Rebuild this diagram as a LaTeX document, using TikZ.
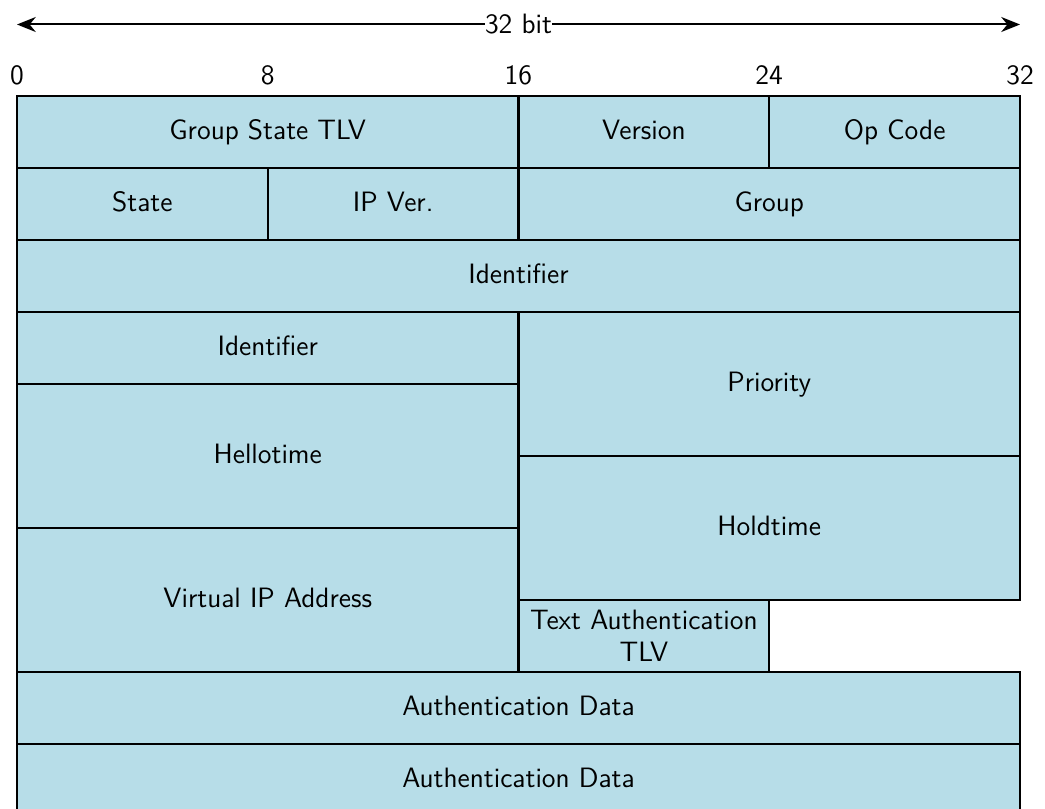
\documentclass[tikz,border=0pt]{standalone}
\usetikzlibrary{arrows.meta}
\definecolor{cellblue}{HTML}{B7DDE8}
\newcommand\bitw{12.5375pt}
\newcommand\rowh{28.8pt}
\newcommand\xo{6.8pt}
\newcommand\yo{38.4pt}
% name, bit1, row1, bit2, row2, text
\newcommand\fld[7][]{%
  \node[fld, minimum width={(#5-#3)*\bitw}, minimum height={(#6-#4)*\rowh}, #1]
    (#2) at ({(#3+#5)/2*\bitw+\xo},{-((#4+#6)/2*\rowh+\yo)}) {#7};}
\newcommand\txtfont{\sffamily\fontsize{11.2}{13}\selectfont}
\tikzset{
  fld/.style={draw=black, fill=cellblue, line width=0.85pt, inner sep=0pt,
    rectangle, align=center, font=\txtfont},
  oneline/.style={text height=1.55ex, text depth=0.25ex},
  tick/.style={font=\txtfont, inner sep=0pt},
}
\begin{document}
\begin{tikzpicture}[x=1pt,y=1pt]
\clip (0,0) rectangle (418,-323.6);
\useasboundingbox (0,0) rectangle (418,-323.6);
% arrow
\coordinate (aL) at (6.8,-9.8);
\coordinate (aR) at (408,-9.8);
\draw[line width=0.8pt, {Stealth[length=7.5pt,width=6pt]}-{Stealth[length=7.5pt,width=6pt]}]
  (aL) -- node[fill=white, inner sep=0pt, font=\txtfont] (lbl) {32 bit} (aR);
% ticks
\node[tick] (t0)  at (6.8,-30.2)   {0};
\node[tick] (t8)  at (107.08,-30.2) {8};
\node[tick] (t16) at (207.36,-30.2) {16};
\node[tick] (t24) at (307.68,-30.2) {24};
\node[tick] (t32) at (408,-30.2)   {32};
% fields
\fld[oneline]{gst}{0}{0}{16}{1}{Group State TLV}
\fld[oneline]{ver}{16}{0}{24}{1}{Version}
\fld[oneline]{op}{24}{0}{32}{1}{Op Code}
\fld[oneline]{st}{0}{1}{8}{2}{State}
\fld[oneline]{ipv}{8}{1}{16}{2}{IP Ver.}
\fld[oneline]{grp}{16}{1}{32}{2}{Group}
\fld[oneline]{id1}{0}{2}{32}{3}{Identifier}
\fld[oneline]{id2}{0}{3}{16}{4}{Identifier}
\fld[oneline]{pri}{16}{3}{32}{5}{Priority}
\fld[oneline]{hello}{0}{4}{16}{6}{Hellotime}
\fld[oneline]{hold}{16}{5}{32}{7}{Holdtime}
\fld[oneline]{vip}{0}{6}{16}{8}{Virtual IP Address}
\fld{tat}{16}{7}{24}{8}{Text Authentication\\TLV}
\fld[oneline]{ad1}{0}{8}{32}{9}{Authentication Data}
\fld[oneline]{ad2}{0}{9}{32}{10}{Authentication Data}
\end{tikzpicture}
\end{document}
